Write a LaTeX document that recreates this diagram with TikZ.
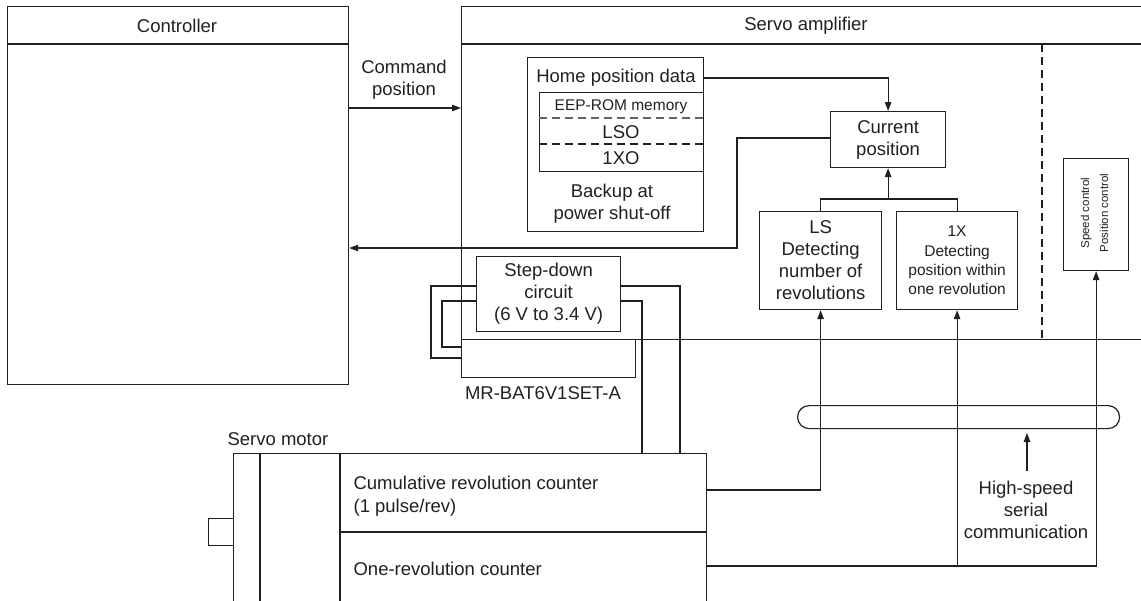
\documentclass[tikz,border=0pt]{standalone}
\usepackage{fontspec}
\setmainfont{Liberation Sans}
\usetikzlibrary{arrows.meta}
\definecolor{ink}{HTML}{231F20}
\begin{document}
\begin{tikzpicture}[x=1pt,y=-1pt, line width=1.2pt, draw=ink, text=ink,
  bx/.style={draw=ink, inner sep=0pt, anchor=north west, align=center},
  big/.style={font=\fontsize{18.5}{22}\selectfont},
  small/.style={font=\fontsize{15.5}{19.3}\selectfont},
  tiny/.style={font=\fontsize{11.5}{19}\selectfont},
  arr/.style={-{Triangle[length=9pt,width=6.5pt]}},
  lbl/.style={inner sep=0pt, align=center}]
\useasboundingbox (0,0) rectangle (1141,600);

% Controller
\node[bx, minimum width=341pt, minimum height=378pt] (ctrl) at (7,6) {};
\draw (ctrl.west |- 0,44) -- (ctrl.east |- 0,44);
\node[lbl,big] (ctrlT) at (177,26) {Controller};

% Servo amplifier
\node[bx, minimum width=720pt, minimum height=333pt] (amp) at (461,6) {};
\draw (amp.west |- 0,44) -- (amp.east |- 0,44);
\node[lbl,big] (ampT) at (806,26) {Servo amplifier};
\draw[dashed, dash pattern=on 8pt off 5pt] (1042,44) -- (1042,339);

% Command position
\draw[arr] (ctrl.east |- 0,108) -- (amp.west |- 0,108);
\node[lbl,big] (cmdT) at (404,80) {Command\\position};

% Battery
\node[bx, minimum width=174pt, minimum height=38pt] (bat) at (461,339) {};
\node[lbl,big] (batT) at (543,393) {MR-BAT6V1SET-A};

% Step-down circuit
\node[bx, big, minimum width=144pt, minimum height=75pt] (sd) at (476,256) {Step-down\\circuit\\(6 V to 3.4 V)};
\draw (sd.west |- 0,286) -- (431,286) -- (431,358) -- (bat.west |- 0,358);
\draw (sd.west |- 0,301) -- (442,301) -- (442,347) -- (bat.west |- 0,347);

% Servo motor
\node[bx, minimum width=25pt, minimum height=27pt] (shaft) at (208,518) {};
\node[bx, minimum width=473pt, minimum height=170pt] (mot) at (233,453) {};
\draw (260,453) -- (260,623);
\draw (340,453) -- (340,623);
\draw (340,532) -- (mot.east |- 0,532);
\node[lbl,big,anchor=west] (motT) at (227,439) {Servo motor};
\node[lbl,big,anchor=west] (cumT) at (353,483) {Cumulative revolution counter};
\node[lbl,big,anchor=west] (pulT) at (353,508) {(1 pulse/rev)};
\node[lbl,big,anchor=west] (oneT) at (353,569) {One-revolution counter};

\draw (sd.east |- 0,286) -- (680,286) -- (mot.north -| 680,0);
\draw (sd.east |- 0,301) -- (642,301) -- (mot.north -| 642,0);

% Home position data
\node[bx, minimum width=176pt, minimum height=174pt] (home) at (527,57) {};
\node[lbl,big] (homeT) at (616,78) {Home position data};
\node[bx, minimum width=164pt, minimum height=79pt] (mem) at (539,92) {};
\draw[dashed, dash pattern=on 8pt off 5pt, draw=ink!70] (mem.west |- 0,118) -- (mem.east |- 0,118);
\draw[dashed, dash pattern=on 8pt off 5pt] (mem.west |- 0,144) -- (mem.east |- 0,144);
\node[lbl,small] (eepT) at (621,107) {EEP-ROM memory};
\node[lbl,big] (lsoT) at (621,132) {LSO};
\node[lbl,big] (xoT) at (621,158) {1XO};
\node[lbl,big] (bkT) at (612,204) {Backup at\\power shut-off};

% Current position
\node[bx, big, minimum width=115pt, minimum height=56pt] (cur) at (830,111) {Current\\position};
\draw[arr] (home.east |- 0,78) -| (cur.north);
\draw[arr] (cur.west |- 0,138) -- (737,138) -- (737,248) -- (ctrl.east |- 0,248);

% Detectors
\node[bx, big, minimum width=122pt, minimum height=98pt] (ls) at (759,211) {LS\\Detecting\\number of\\revolutions};
\node[bx, small, minimum width=121pt, minimum height=98pt] (onex) at (896,211) {1X\\Detecting\\position within\\one revolution};
\draw (ls.north) -- (ls.north |- 0,199) -- (onex.north |- 0,199) -- (onex.north);
\draw[arr] (cur.south |- 0,199) -- (cur.south);

% Speed / position control
\node[bx, minimum width=65pt, minimum height=112pt] (spd) at (1063,158) {};
\node[lbl,tiny,rotate=90] (spdT) at (1094.5,213) {Speed control\\Position control};

% Serial bus
\node[bx, rounded corners=11.5pt, minimum width=322pt, minimum height=23pt] (bus) at (797,405) {};
\draw[arr] (mot.east |- 0,490) -| (ls.south);
\draw[arr] (mot.east |- 0,566) -| (spd.south);
\draw[arr] (onex.south |- 0,566) -- (onex.south);
\coordinate (hsa) at (1027,471);
\draw[arr] (hsa) -- (1027,433);
\node[lbl,big] (hsT) at (1026,510) {High-speed\\serial\\communication};
\end{tikzpicture}
\end{document}
